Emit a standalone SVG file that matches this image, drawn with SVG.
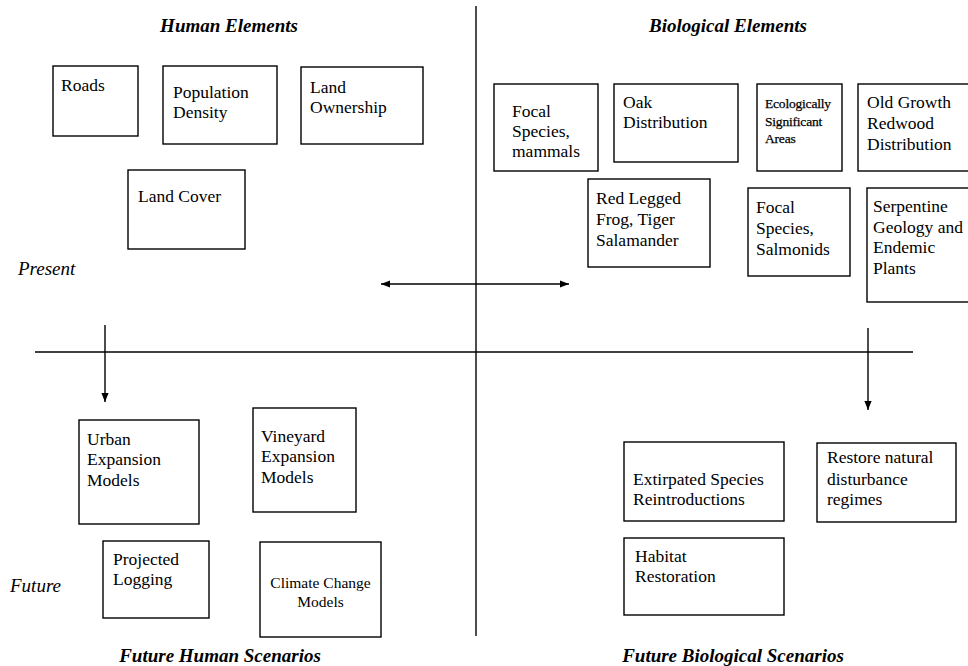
<svg xmlns="http://www.w3.org/2000/svg" width="968" height="666" viewBox="0 0 968 666">
<style>
.bg{fill:#fff}
.box{fill:none;stroke:#000;stroke-width:1.4}
.t{font-family:"Liberation Serif","Times New Roman",serif;font-size:17.5px;fill:#000}
.s{font-size:13.5px;letter-spacing:-0.2px;stroke:#000;stroke-width:0.25}
.m{font-size:15.5px}
.h{font-family:"Liberation Serif","Times New Roman",serif;font-size:19px;font-weight:bold;font-style:italic;fill:#000}
.i{font-family:"Liberation Serif","Times New Roman",serif;font-size:19px;font-style:italic;fill:#000}
.ln{stroke:#000;stroke-width:1.4;fill:none}
</style>
<defs>
<marker id="ah" viewBox="0 0 10 8" refX="10" refY="4" markerWidth="9" markerHeight="7.5" markerUnits="userSpaceOnUse" orient="auto-start-reverse">
<path d="M0,0 L10,4 L0,8 z" fill="#000"/>
</marker>
</defs>
<rect class="bg" x="0" y="0" width="968" height="666"/>

<g id="headings">
<text class="h" x="229" y="32" text-anchor="middle">Human Elements</text>
<text class="h" x="728" y="32" text-anchor="middle">Biological Elements</text>
<text class="h" x="220" y="662" text-anchor="middle">Future Human Scenarios</text>
<text class="h" x="733" y="662" text-anchor="middle">Future Biological Scenarios</text>
<text class="i" x="18" y="275">Present</text>
<text class="i" x="10" y="592">Future</text>
</g>

<g id="connectors">
<line class="ln" x1="476" y1="6" x2="476" y2="636"/>
<line class="ln" x1="35" y1="352" x2="913" y2="352"/>
<line class="ln" x1="381" y1="284" x2="569" y2="284" marker-start="url(#ah)" marker-end="url(#ah)"/>
<line class="ln" x1="105" y1="325" x2="105" y2="402" marker-end="url(#ah)"/>
<line class="ln" x1="868" y1="328" x2="868" y2="410" marker-end="url(#ah)"/>
</g>

<g id="roads"><rect class="box" x="53" y="66" width="85" height="70"/><text class="t" x="61" y="91">Roads</text></g>
<g id="population-density"><rect class="box" x="163" y="66" width="114" height="78"/><text class="t" x="173" y="98">Population</text><text class="t" x="173" y="118">Density</text></g>
<g id="land-ownership"><rect class="box" x="301" y="67" width="122" height="77"/><text class="t" x="310" y="93">Land</text><text class="t" x="310" y="113">Ownership</text></g>
<g id="land-cover"><rect class="box" x="128" y="170" width="117" height="79"/><text class="t" x="138" y="202">Land Cover</text></g>

<g id="focal-mammals"><rect class="box" x="494" y="84" width="104" height="87"/><text class="t" x="512" y="117">Focal</text><text class="t" x="512" y="137">Species,</text><text class="t" x="512" y="157">mammals</text></g>
<g id="oak"><rect class="box" x="614" y="84" width="124" height="78"/><text class="t" x="623" y="108">Oak</text><text class="t" x="623" y="128">Distribution</text></g>
<g id="esa"><rect class="box" x="757" y="84" width="85" height="87"/><text class="t s" x="765" y="108">Ecologically</text><text class="t s" x="765" y="126">Significant</text><text class="t s" x="765" y="143">Areas</text></g>
<g id="old-growth"><rect class="box" x="858" y="84" width="115" height="87"/><text class="t" x="867" y="108">Old Growth</text><text class="t" x="867" y="129">Redwood</text><text class="t" x="867" y="150">Distribution</text></g>
<g id="frog"><rect class="box" x="588" y="179" width="122" height="88"/><text class="t" x="596" y="204">Red Legged</text><text class="t" x="596" y="225">Frog, Tiger</text><text class="t" x="596" y="246">Salamander</text></g>
<g id="salmonids"><rect class="box" x="748" y="188" width="102" height="88"/><text class="t" x="756" y="213">Focal</text><text class="t" x="756" y="234">Species,</text><text class="t" x="756" y="255">Salmonids</text></g>
<g id="serpentine"><rect class="box" x="867" y="188" width="106" height="114"/><text class="t" x="873" y="212">Serpentine</text><text class="t" x="873" y="233">Geology and</text><text class="t" x="873" y="253">Endemic</text><text class="t" x="873" y="274">Plants</text></g>

<g id="urban"><rect class="box" x="79" y="420" width="120" height="104"/><text class="t" x="87" y="445">Urban</text><text class="t" x="87" y="465">Expansion</text><text class="t" x="87" y="486">Models</text></g>
<g id="vineyard"><rect class="box" x="253" y="408" width="103" height="104"/><text class="t" x="261" y="442">Vineyard</text><text class="t" x="261" y="462">Expansion</text><text class="t" x="261" y="483">Models</text></g>
<g id="logging"><rect class="box" x="103" y="541" width="106" height="77"/><text class="t" x="113" y="565">Projected</text><text class="t" x="113" y="585">Logging</text></g>
<g id="climate"><rect class="box" x="260" y="542" width="121" height="95"/><text class="t m" x="320.5" y="588" text-anchor="middle">Climate Change</text><text class="t m" x="320.5" y="607" text-anchor="middle">Models</text></g>

<g id="extirpated"><rect class="box" x="624" y="442" width="160" height="79"/><text class="t" x="633" y="485">Extirpated Species</text><text class="t" x="633" y="505">Reintroductions</text></g>
<g id="restore"><rect class="box" x="817" y="443" width="139" height="79"/><text class="t" x="827" y="463">Restore natural</text><text class="t" x="827" y="485">disturbance</text><text class="t" x="827" y="505">regimes</text></g>
<g id="habitat"><rect class="box" x="624" y="538" width="160" height="77"/><text class="t" x="635" y="562">Habitat</text><text class="t" x="635" y="582">Restoration</text></g>
</svg>
